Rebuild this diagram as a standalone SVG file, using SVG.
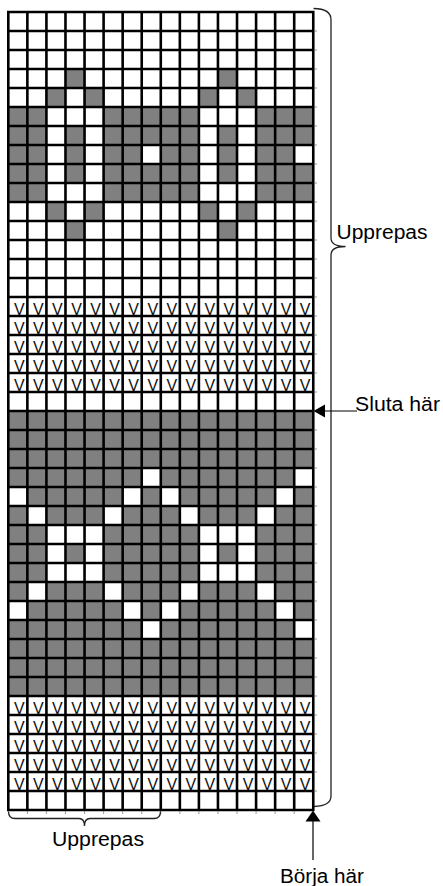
<svg xmlns="http://www.w3.org/2000/svg" width="443" height="886" viewBox="0 0 443 886">
<style>
.g{fill:#808080}
.w{fill:#fff}
.grid{fill:none;stroke:#000;stroke-width:2.6}
.tick{fill:none;stroke:#999;stroke-width:1}
.brace{fill:none;stroke:#222;stroke-width:1.3}
.v{font-family:"Liberation Sans",Arial,sans-serif;font-size:16px;fill:#111;text-anchor:middle}
.lbl{font-family:"Liberation Sans",Arial,sans-serif;font-size:19.5px;fill:#000}
.arrowline{stroke:#000;stroke-width:1.2;fill:none}
</style>
<defs>
<rect id="c" width="19.06" height="19"/>
</defs>
<rect width="443" height="886" fill="#fff"/>
<g id="chart">
<g id="upper-pattern" class="g">
<use href="#c" x="65.48" y="69"/><use href="#c" x="217.96" y="69"/>
<use href="#c" x="46.42" y="88"/><use href="#c" x="84.54" y="88"/><use href="#c" x="198.9" y="88"/><use href="#c" x="237.02" y="88"/>
<rect x="8.3" y="107" width="38.12" height="95"/>
<rect x="103.6" y="107" width="95.3" height="95"/>
<rect x="256.08" y="107" width="57.18" height="95"/>
<use href="#c" x="65.48" y="126"/><use href="#c" x="65.48" y="145"/><use href="#c" x="65.48" y="164"/>
<use href="#c" x="217.96" y="126"/><use href="#c" x="217.96" y="145"/><use href="#c" x="217.96" y="164"/>
<use href="#c" x="46.42" y="202"/><use href="#c" x="84.54" y="202"/><use href="#c" x="198.9" y="202"/><use href="#c" x="237.02" y="202"/>
<use href="#c" x="65.48" y="221"/><use href="#c" x="217.96" y="221"/>
</g>
<g id="upper-pattern-holes" class="w">
<use href="#c" x="141.72" y="145"/><use href="#c" x="294.2" y="145"/>
</g>
<g id="lower-band">
<rect class="g" x="8.3" y="411" width="304.96" height="285"/>
<g class="w">
<use href="#c" x="141.72" y="468"/><use href="#c" x="294.2" y="468"/>
<use href="#c" x="8.3" y="487"/><use href="#c" x="122.66" y="487"/><use href="#c" x="160.78" y="487"/><use href="#c" x="275.14" y="487"/>
<use href="#c" x="27.36" y="506"/><use href="#c" x="103.6" y="506"/><use href="#c" x="179.84" y="506"/><use href="#c" x="256.08" y="506"/>
<rect x="46.42" y="525" width="57.18" height="19"/><rect x="198.9" y="525" width="57.18" height="19"/>
<use href="#c" x="46.42" y="544"/><use href="#c" x="84.54" y="544"/><use href="#c" x="198.9" y="544"/><use href="#c" x="237.02" y="544"/>
<rect x="46.42" y="563" width="57.18" height="19"/><rect x="198.9" y="563" width="57.18" height="19"/>
<use href="#c" x="27.36" y="582"/><use href="#c" x="103.6" y="582"/><use href="#c" x="179.84" y="582"/><use href="#c" x="256.08" y="582"/>
<use href="#c" x="8.3" y="601"/><use href="#c" x="122.66" y="601"/><use href="#c" x="160.78" y="601"/><use href="#c" x="275.14" y="601"/>
<use href="#c" x="141.72" y="620"/><use href="#c" x="294.2" y="620"/>
</g>
</g>
<g id="slip-rows" class="v">
<text x="19.3 38.36 57.42 76.48 95.54 114.6 133.66 152.72 171.78 190.84 209.9 228.96 248.02 267.08 286.14 305.2" y="315">VVVVVVVVVVVVVVVV</text>
<text x="19.3 38.36 57.42 76.48 95.54 114.6 133.66 152.72 171.78 190.84 209.9 228.96 248.02 267.08 286.14 305.2" y="334">VVVVVVVVVVVVVVVV</text>
<text x="19.3 38.36 57.42 76.48 95.54 114.6 133.66 152.72 171.78 190.84 209.9 228.96 248.02 267.08 286.14 305.2" y="353">VVVVVVVVVVVVVVVV</text>
<text x="19.3 38.36 57.42 76.48 95.54 114.6 133.66 152.72 171.78 190.84 209.9 228.96 248.02 267.08 286.14 305.2" y="372">VVVVVVVVVVVVVVVV</text>
<text x="19.3 38.36 57.42 76.48 95.54 114.6 133.66 152.72 171.78 190.84 209.9 228.96 248.02 267.08 286.14 305.2" y="391">VVVVVVVVVVVVVVVV</text>
<text x="19.3 38.36 57.42 76.48 95.54 114.6 133.66 152.72 171.78 190.84 209.9 228.96 248.02 267.08 286.14 305.2" y="714">VVVVVVVVVVVVVVVV</text>
<text x="19.3 38.36 57.42 76.48 95.54 114.6 133.66 152.72 171.78 190.84 209.9 228.96 248.02 267.08 286.14 305.2" y="733">VVVVVVVVVVVVVVVV</text>
<text x="19.3 38.36 57.42 76.48 95.54 114.6 133.66 152.72 171.78 190.84 209.9 228.96 248.02 267.08 286.14 305.2" y="752">VVVVVVVVVVVVVVVV</text>
<text x="19.3 38.36 57.42 76.48 95.54 114.6 133.66 152.72 171.78 190.84 209.9 228.96 248.02 267.08 286.14 305.2" y="771">VVVVVVVVVVVVVVVV</text>
<text x="19.3 38.36 57.42 76.48 95.54 114.6 133.66 152.72 171.78 190.84 209.9 228.96 248.02 267.08 286.14 305.2" y="790">VVVVVVVVVVVVVVVV</text>
</g>
<g id="ticks" class="tick">
<path d="M314.6 31H317M314.6 50H317M314.6 69H317M314.6 88H317M314.6 107H317M314.6 126H317M314.6 145H317M314.6 164H317M314.6 183H317M314.6 202H317M314.6 221H317M314.6 240H317M314.6 259H317M314.6 278H317M314.6 297H317M314.6 316H317M314.6 335H317M314.6 354H317M314.6 373H317M314.6 392H317M314.6 430H317M314.6 449H317M314.6 468H317M314.6 487H317M314.6 506H317M314.6 525H317M314.6 544H317M314.6 563H317M314.6 582H317M314.6 601H317M314.6 620H317M314.6 639H317M314.6 658H317M314.6 677H317M314.6 696H317M314.6 715H317M314.6 734H317M314.6 753H317M314.6 772H317M314.6 791H317"/>
<path d="M27.36 811.3V814M46.42 811.3V814M65.48 811.3V814M84.54 811.3V814M103.6 811.3V814M122.66 811.3V814M141.72 811.3V814M160.78 811.3V814M179.84 811.3V814M198.9 811.3V814M217.96 811.3V814M237.02 811.3V814M256.08 811.3V814M275.14 811.3V814M294.2 811.3V814"/>
</g>
<path id="gridlines" class="grid" d="M8.3 12V810M27.36 12V810M46.42 12V810M65.48 12V810M84.54 12V810M103.6 12V810M122.66 12V810M141.72 12V810M160.78 12V810M179.84 12V810M198.9 12V810M217.96 12V810M237.02 12V810M256.08 12V810M275.14 12V810M294.2 12V810M313.26 12V810
M7 12H314.56M7 31H314.56M7 50H314.56M7 69H314.56M7 88H314.56M7 107H314.56M7 126H314.56M7 145H314.56M7 164H314.56M7 183H314.56M7 202H314.56M7 221H314.56M7 240H314.56M7 259H314.56M7 278H314.56M7 297H314.56M7 316H314.56M7 335H314.56M7 354H314.56M7 373H314.56M7 392H314.56M7 411H314.56M7 430H314.56M7 449H314.56M7 468H314.56M7 487H314.56M7 506H314.56M7 525H314.56M7 544H314.56M7 563H314.56M7 582H314.56M7 601H314.56M7 620H314.56M7 639H314.56M7 658H314.56M7 677H314.56M7 696H314.56M7 715H314.56M7 734H314.56M7 753H314.56M7 772H314.56M7 791H314.56M7 810H314.56"/>
</g>
<g id="connectors">
<path id="brace-right" class="brace" d="M313.5 8.5Q331 8.5 331 20L331 238Q331 246.5 345.5 246.5Q331 246.5 331 255L331 796Q331 806 314 806.5"/>
<path id="brace-bottom" class="brace" d="M8.5 811.5Q8.5 818.5 15 818.5L79 818.5Q84.5 818.5 84.5 826Q84.5 818.5 90 818.5L154 818.5Q160.5 818.5 160.5 811.5"/>
<g id="arrow-stop">
<path class="arrowline" d="M324 411H357"/>
<path d="M313.5 411L325 404.6L325 417.4Z" fill="#000"/>
</g>
<g id="arrow-start">
<path class="arrowline" d="M313 820V860"/>
<path d="M313 810.5L305.5 821.5L320.5 821.5Z" fill="#000"/>
</g>
</g>
<g id="labels" class="lbl">
<text id="lbl-repeat-rows" x="336.5" y="239" textLength="91" lengthAdjust="spacingAndGlyphs">Upprepas</text>
<text id="lbl-stop" x="355" y="411" textLength="85" lengthAdjust="spacingAndGlyphs">Sluta här</text>
<text id="lbl-repeat-cols" x="52" y="846" textLength="92" lengthAdjust="spacingAndGlyphs">Upprepas</text>
<text id="lbl-start" x="280" y="883" textLength="84" lengthAdjust="spacingAndGlyphs">Börja här</text>
</g>
</svg>
